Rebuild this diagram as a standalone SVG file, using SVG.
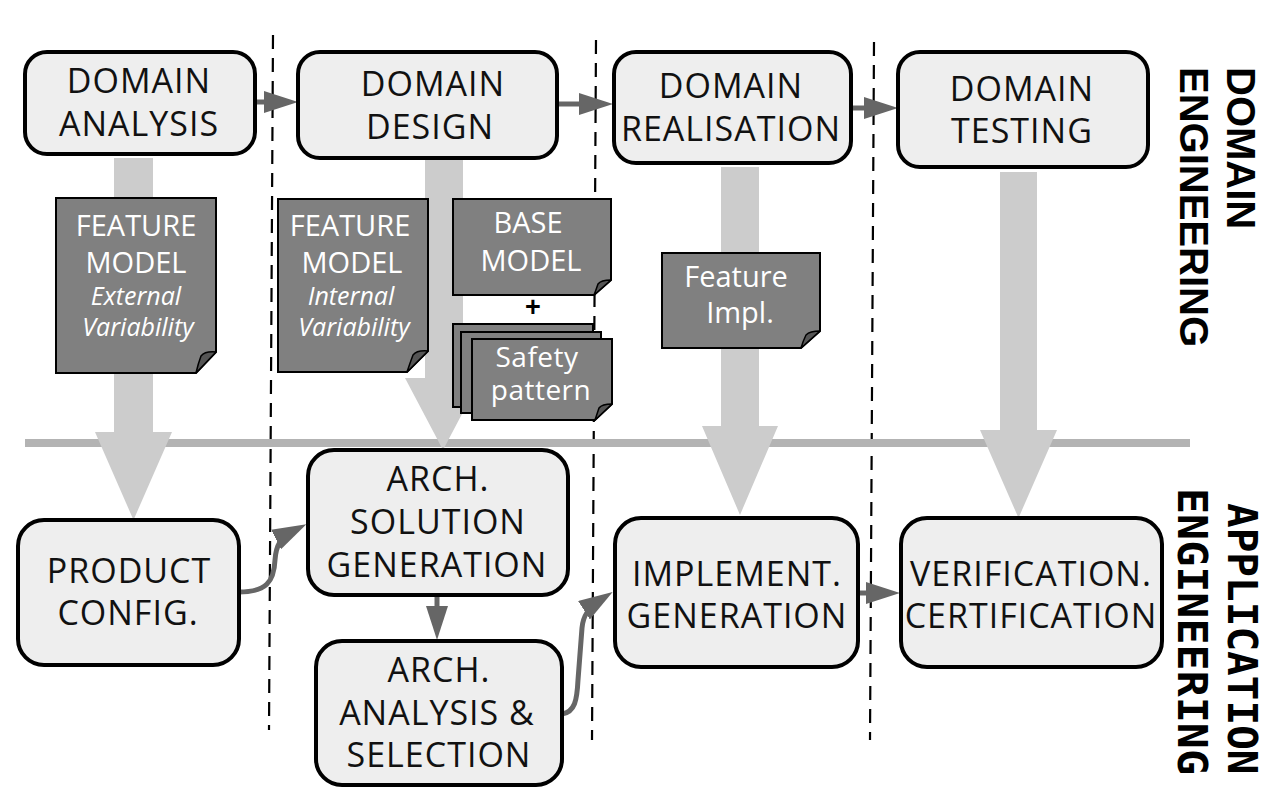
<svg xmlns="http://www.w3.org/2000/svg" width="1264" height="792" viewBox="0 0 1264 792">
<style>
.box{fill:#eeeeee;stroke:#000;stroke-width:4}
.bt{font-family:"Open Sans","Noto Sans",sans-serif;font-size:34px;letter-spacing:1px;fill:#111;text-anchor:middle}
.doc{fill:#808080;stroke:#000;stroke-width:2}
.fold{fill:#555;stroke:#000;stroke-width:1.5;stroke-linejoin:round}
.dt{font-family:"Open Sans","Noto Sans",sans-serif;font-size:29px;fill:#fff;text-anchor:middle}
.it{font-style:italic;font-size:25px}
.sp{font-size:28px;letter-spacing:0.5px}
.flow{fill:#cccccc}
.sep{stroke:#b3b3b3;stroke-width:8}
.dash{stroke:#000;stroke-width:2.2;stroke-dasharray:14 9}
.conn{fill:none;stroke:#666;stroke-width:5;marker-end:url(#ah)}
.side{font-family:"Liberation Sans",Arial,sans-serif;font-weight:bold;font-size:40px;fill:#000}
.side2{font-family:"DejaVu Sans Mono",monospace;font-weight:bold;font-size:41px;fill:#000}
</style>
<defs>
<marker id="ah" markerUnits="userSpaceOnUse" markerWidth="34" markerHeight="22" refX="19" refY="11" orient="auto" viewBox="0 0 34 22">
<path d="M0,0 L34,11 L0,22 z" fill="#666"/>
</marker>
</defs>
<rect width="1264" height="792" fill="#fff"/>

<g id="separators">
<line class="dash" x1="273" y1="35" x2="269" y2="730"/>
<line class="dash" x1="596" y1="40" x2="592" y2="740"/>
<line class="dash" x1="874" y1="42" x2="870" y2="740"/>
<line class="sep" x1="25" y1="443" x2="1190" y2="443"/>
</g>

<g id="flows">
<polygon class="flow" points="114,158 153,158 153,432 172,432 133.5,520 95,432 114,432"/>
<polygon class="flow" points="425,160 463,160 463,378 481,378 443,450 405,378 425,378"/>
<polygon class="flow" points="721,167 759,167 759,426 778,426 740,515 702,426 721,426"/>
<polygon class="flow" points="1000,172 1037,172 1037,430 1057,430 1018.5,518 980,430 1000,430"/>
</g>

<g id="connectors">
<path class="conn" d="M255,102 H283"/>
<path class="conn" d="M557,104 H598"/>
<path class="conn" d="M851,108 H883"/>
<path class="conn" d="M858,593 H885"/>
<path class="conn" d="M437,596 V625"/>
<path class="conn" d="M239,592 C266,592 274,582 275,560 C276,545 281,537 293,531"/>
<path class="conn" d="M562,714 C575,712 577,700 578,680 L582,628 C583,615 589,607 600,600"/>
</g>

<g id="doc-feature-external">
<path class="doc" d="M56,198 H216 V352 L196,373 H56 Z"/>
<path class="fold" d="M216,352 Q205,351 201,356 Q198,364 196,373 Z"/>
<text class="dt" x="136" y="236">FEATURE</text>
<text class="dt" x="136" y="273">MODEL</text>
<text class="dt it" x="136" y="305">External</text>
<text class="dt it" x="138" y="336">Variability</text>
</g>

<g id="doc-feature-internal">
<path class="doc" d="M278,199 H428 V351 L407,372 H278 Z"/>
<path class="fold" d="M428,351 Q417,350 413,355 Q410,363 407,372 Z"/>
<text class="dt" x="350" y="236">FEATURE</text>
<text class="dt" x="352" y="273">MODEL</text>
<text class="dt it" x="351" y="305">Internal</text>
<text class="dt it" x="354" y="336">Variability</text>
</g>

<g id="doc-base-model">
<path class="doc" d="M453,199 H611 V280 L594,295 H453 Z"/>
<path class="fold" d="M611,280 Q601,280 598,284 Q596,290 594,295 Z"/>
<text class="dt" x="528" y="233">BASE</text>
<text class="dt" x="531" y="271">MODEL</text>
</g>

<g id="plus">
<text x="533" y="316" font-family="'Liberation Sans',Arial,sans-serif" font-weight="bold" font-size="27" text-anchor="middle" fill="#000">+</text>
</g>

<g id="doc-safety-pattern">
<path class="doc" d="M453,324 H593 V391 L576,407 H453 Z"/>
<path class="doc" d="M461,332 H601 V397 L584,413 H461 Z"/>
<path class="doc" d="M472,339 H612 V404 L595,420 H472 Z"/>
<path class="fold" d="M612,404 Q602,404 599,408 Q597,414 595,420 Z"/>
<text class="dt sp" x="537" y="367">Safety</text>
<text class="dt sp" x="541" y="400">pattern</text>
</g>

<g id="doc-feature-impl">
<path class="doc" d="M662,253 H820 V331 L801,348 H662 Z"/>
<path class="fold" d="M820,331 Q810,331 806,335 Q803,341 801,348 Z"/>
<text class="dt" x="736" y="287">Feature</text>
<text class="dt" x="740" y="323">Impl.</text>
</g>

<g id="domain-analysis">
<rect class="box" x="25" y="52" width="230" height="102" rx="22"/>
<text class="bt" x="139" y="93">DOMAIN</text>
<text class="bt" x="139" y="136">ANALYSIS</text>
</g>
<g id="domain-design">
<rect class="box" x="298" y="52" width="259" height="106" rx="22"/>
<text class="bt" x="433" y="96">DOMAIN</text>
<text class="bt" x="430" y="139">DESIGN</text>
</g>
<g id="domain-realisation">
<rect class="box" x="614" y="52" width="237" height="111" rx="22"/>
<text class="bt" x="731" y="98">DOMAIN</text>
<text class="bt" x="731" y="141">REALISATION</text>
</g>
<g id="domain-testing">
<rect class="box" x="898" y="52" width="250" height="115" rx="22"/>
<text class="bt" x="1022" y="101">DOMAIN</text>
<text class="bt" x="1022" y="143">TESTING</text>
</g>

<g id="product-config">
<rect class="box" x="18" y="520" width="221" height="145" rx="26"/>
<text class="bt" x="129" y="583">PRODUCT</text>
<text class="bt" x="128" y="625">CONFIG.</text>
</g>
<g id="arch-solution-generation">
<rect class="box" x="308" y="450" width="260" height="145" rx="26"/>
<text class="bt" x="438" y="491">ARCH.</text>
<text class="bt" x="438" y="534">SOLUTION</text>
<text class="bt" x="437" y="577">GENERATION</text>
</g>
<g id="arch-analysis-selection">
<rect class="box" x="316" y="641" width="246" height="144" rx="26"/>
<text class="bt" x="439" y="682">ARCH.</text>
<text class="bt" x="437" y="725">ANALYSIS &amp;</text>
<text class="bt" x="439" y="767">SELECTION</text>
</g>
<g id="implement-generation">
<rect class="box" x="615" y="518" width="243" height="149" rx="26"/>
<text class="bt" x="737" y="586">IMPLEMENT.</text>
<text class="bt" x="737" y="628">GENERATION</text>
</g>
<g id="verification-certification">
<rect class="box" x="901" y="518" width="261" height="149" rx="26"/>
<text class="bt" x="1031" y="586">VERIFICATION.</text>
<text class="bt" x="1031" y="628">CERTIFICATION</text>
</g>

<g id="label-domain-engineering">
<text class="side" transform="translate(1227,67) rotate(90)"><tspan x="0" y="0">DOMAIN</tspan><tspan x="0" y="47">ENGINEERING</tspan></text>
</g>
<g id="label-application-engineering">
<text class="side2" transform="translate(1228,503) rotate(90)">APPLICATION</text>
<text class="side2" transform="translate(1178,488) rotate(90)" textLength="287" lengthAdjust="spacingAndGlyphs">ENGINEERING</text>
</g>
</svg>
